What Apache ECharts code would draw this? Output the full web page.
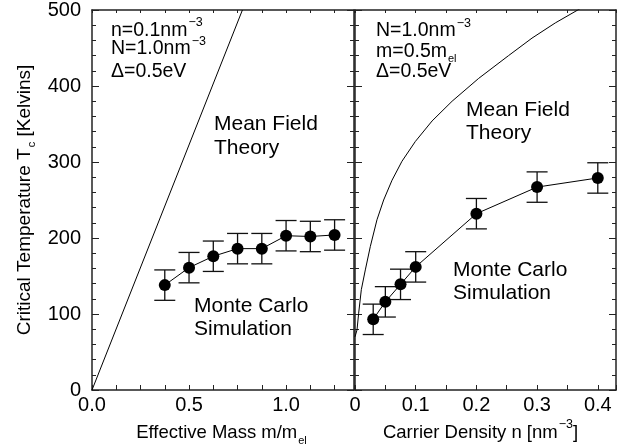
<!DOCTYPE html>
<html>
<head>
<meta charset="utf-8">
<script src="https://cdn.jsdelivr.net/npm/echarts@6/dist/echarts.min.js"></script>
<style>
html,body{margin:0;padding:0;background:#fff;}
#chart{width:636px;height:447px;}
</style>
</head>
<body>
<div id="chart"></div>
<script>
// ---- data ----
const massX   = [0.375, 0.5, 0.625, 0.75, 0.875, 1.0, 1.125, 1.25];
const massTc  = [138, 161, 176, 186, 186, 203, 202, 204];
const massErr = [20, 20, 20, 20, 20, 20, 20, 20];

const densX   = [0.03, 0.05, 0.075, 0.1, 0.2, 0.3, 0.4];
const densTc  = [93, 116, 139, 162, 232, 267, 279];
const densErr = [20, 20, 20, 20, 20, 20, 20];

const mfMassX = [0, 0.775];
const mfMassT = [0, 500];

const mfDensX = [0, 0.0033, 0.006, 0.0104, 0.017, 0.0253, 0.0362, 0.0472, 0.061, 0.0774, 0.0994, 0.127, 0.16, 0.2037, 0.253, 0.2916, 0.33, 0.367, 0.38];
const mfDensT = [70, 79, 101, 132, 158, 189, 224, 250, 276, 301, 327, 354, 380, 410, 440, 463, 483, 500, 506];

const yTicks = [0, 100, 200, 300, 400, 500];
const massTickLabels = ['0.0', '0.5', '1.0'];
const densTickLabels = ['0', '0.1', '0.2', '0.3', '0.4'];

// ---- chart ----
const FAM = 'Liberation Sans';
const FONT = 'Liberation Sans, Arial, Helvetica, sans-serif';
const AXC = '#222';
const zip = (a, b) => a.map((v, i) => [v, b[i]]);
const zip3 = (a, b, c) => a.map((v, i) => [v, b[i], c[i]]);

const mctx = document.createElement('canvas').getContext('2d');
function measure(t, size) { mctx.font = size + 'px "' + FAM + '", Arial, sans-serif'; return mctx.measureText(t).width; }

// parts: [{t, size, dy, gap}]
function rtext(parts, x, y, align, rotation) {
  let total = 0;
  const ws = parts.map(p => { const w = measure(p.t, p.size) + (p.gap || 0); total += w; return w; });
  let cx = align === 'center' ? -total / 2 : 0;
  const children = parts.map((p, i) => {
    const el = {
      type: 'text', x: cx + (p.gap || 0), y: p.dy || 0,
      style: {text: p.t, font: p.size + 'px ' + FONT, fill: '#000', align: 'left', verticalAlign: 'middle'}
    };
    cx += ws[i];
    return el;
  });
  return {type: 'group', x: x, y: y, rotation: rotation || 0, z: 50, children: children};
}

function labelFmt(list, step) {
  return function (v) {
    const k = v / step;
    if (Math.abs(k - Math.round(k)) > 1e-6) return '';
    const idx = Math.round(k);
    return list[idx] !== undefined ? list[idx] : '';
  };
}

function xAx(grid, pos, max, interval, labels, step) {
  return {
    type: 'value', gridIndex: grid, position: pos, min: 0, max: max, interval: interval,
    axisLine: {show: true, onZero: false, lineStyle: {color: AXC, width: 1.5}},
    axisTick: {show: true, inside: true, length: pos === 'bottom' ? 5 : 3, lineStyle: {color: AXC, width: 1}},
    axisLabel: labels ? {show: true, margin: 5, fontSize: 20, color: '#000', fontFamily: FONT,
      formatter: labelFmt(labels, step)} : {show: false},
    splitLine: {show: false}
  };
}
function yAx(grid, pos, showLabels) {
  return {
    type: 'value', gridIndex: grid, position: pos, min: 0, max: 500, interval: 100,
    axisLine: {show: true, onZero: false, lineStyle: {color: AXC, width: 1.5}},
    axisTick: {show: true, inside: true, length: 7, lineStyle: {color: AXC, width: 1}},
    minorTick: {show: true, splitNumber: 5, length: 4, lineStyle: {color: AXC, width: 1}},
    axisLabel: showLabels ? {show: true, margin: 11, fontSize: 20, color: '#000', fontFamily: FONT,
      formatter: v => (yTicks.indexOf(v) >= 0 ? String(v) : '')} : {show: false},
    splitLine: {show: false}
  };
}

function errorBars(xi, yi, data) {
  return {
    type: 'custom', xAxisIndex: xi, yAxisIndex: yi, z: 3, silent: true,
    data: data,
    encode: {x: 0, y: 1},
    renderItem: function (params, api) {
      const x = api.value(0), y = api.value(1), e = api.value(2);
      const top = api.coord([x, y + e]);
      const bot = api.coord([x, y - e]);
      const hw = 10.5;
      const st = {stroke: '#111', lineWidth: 1.3};
      return {
        type: 'group',
        children: [
          {type: 'line', shape: {x1: top[0], y1: top[1], x2: bot[0], y2: bot[1]}, style: st},
          {type: 'line', shape: {x1: top[0] - hw, y1: top[1], x2: top[0] + hw, y2: top[1]}, style: st},
          {type: 'line', shape: {x1: bot[0] - hw, y1: bot[1], x2: bot[0] + hw, y2: bot[1]}, style: st}
        ]
      };
    }
  };
}

const A = 19.5, SUP = 12.5, SUB = 11, BIG = 21;
const chart = echarts.init(document.getElementById('chart'), null, {renderer: 'canvas'});
chart.setOption({
  animation: false,
  backgroundColor: '#fff',
  textStyle: {fontFamily: FONT},
  grid: [
    {left: 92, top: 10, width: 262, height: 380, containLabel: false, outerBoundsMode: 'none'},
    {left: 355, top: 10, width: 261, height: 380, containLabel: false, outerBoundsMode: 'none'}
  ],
  xAxis: [
    xAx(0, 'bottom', 1.35, 0.125, massTickLabels, 0.5),
    xAx(0, 'top', 1.35, 0.125, null, 0.5),
    xAx(1, 'bottom', 0.43, 0.05, densTickLabels, 0.1),
    xAx(1, 'top', 0.43, 0.05, null, 0.1)
  ],
  yAxis: [
    yAx(0, 'left', true),
    yAx(0, 'right', false),
    yAx(1, 'left', false),
    yAx(1, 'right', false)
  ],
  series: [
    {type: 'line', xAxisIndex: 0, yAxisIndex: 0, data: zip(mfMassX, mfMassT), showSymbol: false,
      symbol: 'none', clip: true, lineStyle: {color: '#000', width: 1}, z: 2},
    errorBars(0, 0, zip3(massX, massTc, massErr)),
    {type: 'line', xAxisIndex: 0, yAxisIndex: 0, data: zip(massX, massTc), symbol: 'circle', symbolSize: 12,
      itemStyle: {color: '#000'}, lineStyle: {color: '#000', width: 1}, z: 4},
    {type: 'line', xAxisIndex: 2, yAxisIndex: 2, data: zip(mfDensX, mfDensT), showSymbol: false,
      symbol: 'none', clip: true, lineStyle: {color: '#000', width: 1}, z: 2},
    errorBars(2, 2, zip3(densX, densTc, densErr)),
    {type: 'line', xAxisIndex: 2, yAxisIndex: 2, data: zip(densX, densTc), symbol: 'circle', symbolSize: 12,
      itemStyle: {color: '#000'}, lineStyle: {color: '#000', width: 1}, z: 4}
  ],
  graphic: [
    // axis names
    rtext([{t: 'Critical Temperature T', size: 19}, {t: 'c', size: SUB, dy: 7, gap: 1}, {t: ' [Kelvins]', size: 19}],
      25, 200, 'center', Math.PI / 2),
    rtext([{t: 'Effective Mass m/m', size: 18.5}, {t: 'el', size: SUB, dy: 8, gap: 1}], 221.5, 433, 'center'),
    rtext([{t: 'Carrier Density n [nm', size: 18.5}, {t: '−3', size: SUP, dy: -8, gap: 1}, {t: ']', size: 18.5}],
      480.5, 433, 'center'),
    // left annotations
    rtext([{t: 'n=0.1nm', size: A}, {t: '−3', size: SUP, dy: -8, gap: 1}], 111, 31, 'left'),
    rtext([{t: 'N=1.0nm', size: A}, {t: '−3', size: SUP, dy: -7, gap: 1}], 111, 49, 'left'),
    rtext([{t: 'Δ=0.5eV', size: A}], 111, 71.5, 'left'),
    // right annotations
    rtext([{t: 'N=1.0nm', size: A}, {t: '−3', size: SUP, dy: -7, gap: 1}], 376, 31, 'left'),
    rtext([{t: 'm=0.5m', size: A}, {t: 'el', size: SUB, dy: 7, gap: 1}], 376, 52, 'left'),
    rtext([{t: 'Δ=0.5eV', size: A}], 376, 71.5, 'left'),
    // curve labels
    rtext([{t: 'Mean Field', size: BIG}], 214, 124, 'left'),
    rtext([{t: 'Theory', size: BIG}], 214, 148, 'left'),
    rtext([{t: 'Monte Carlo', size: BIG}], 194, 306, 'left'),
    rtext([{t: 'Simulation', size: BIG}], 194, 329, 'left'),
    rtext([{t: 'Mean Field', size: BIG}], 466, 110, 'left'),
    rtext([{t: 'Theory', size: BIG}], 466, 133, 'left'),
    rtext([{t: 'Monte Carlo', size: BIG}], 453, 270, 'left'),
    rtext([{t: 'Simulation', size: BIG}], 453, 293, 'left')
  ]
});
</script>
</body>
</html>
